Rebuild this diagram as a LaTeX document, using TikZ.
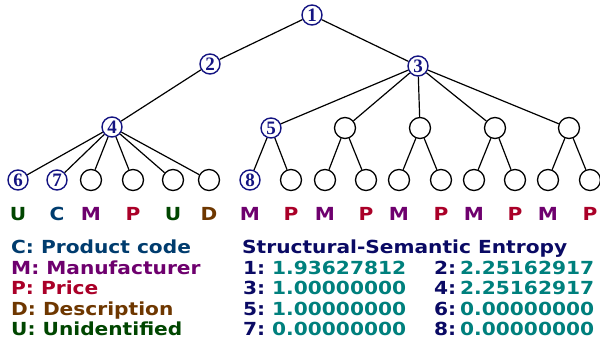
\documentclass[tikz,border=0pt]{standalone}
\usepackage{fontspec}
\setmainfont[FakeStretch=1.12]{DejaVu Sans}
\newfontfamily\digitfont{Liberation Serif}

\definecolor{treeblue}{RGB}{20,20,130}
\definecolor{codecol}{RGB}{0,60,110}
\definecolor{manucol}{RGB}{110,0,110}
\definecolor{pricecol}{RGB}{170,0,40}
\definecolor{desccol}{RGB}{110,55,0}
\definecolor{unidcol}{RGB}{0,70,0}
\definecolor{enttitle}{RGB}{10,10,100}
\definecolor{entval}{RGB}{0,128,125}

\tikzset{
  numnode/.style={circle, draw=treeblue, line width=1.4pt, inner sep=0pt, minimum size=20pt,
    text=treeblue, font=\digitfont\bfseries\fontsize{19}{19}\selectfont},
  plainnode/.style={circle, draw=black, line width=1.3pt, inner sep=0pt, minimum size=21pt},
  fieldtag/.style={anchor=base, inner sep=0pt, font=\bfseries\fontsize{18}{18}\selectfont},
  legend/.style={anchor=base west, inner sep=0pt, font=\bfseries\fontsize{18}{18}\selectfont},
  edge/.style={line width=1.2pt, black}
}

\begin{document}
\begin{tikzpicture}[x=1pt,y=1pt]
\useasboundingbox (0,0) rectangle (600,-345);
\node [numnode] (n1) at (312,-15) {1};
\node [numnode] (n2) at (210,-64) {2};
\node [numnode] (n3) at (418,-66) {3};
\node [numnode] (n4) at (112,-127) {4};
\node [numnode] (n5) at (271,-128) {5};
\node [plainnode] (a) at (345,-128) {};
\node [plainnode] (b) at (420,-128) {};
\node [plainnode] (c) at (495,-128) {};
\node [plainnode] (d) at (569,-128) {};
\node [numnode] (n6) at (18,-180) {6};
\node [numnode] (n7) at (57,-180) {7};
\node [plainnode] (l3) at (91,-180) {};
\node [plainnode] (l4) at (133,-180) {};
\node [plainnode] (l5) at (173,-180) {};
\node [plainnode] (l6) at (209,-180) {};
\node [numnode] (n8) at (250,-180) {8};
\node [plainnode] (l8) at (291,-180) {};
\node [plainnode] (la1) at (325,-180) {};
\node [plainnode] (la2) at (366,-180) {};
\node [plainnode] (lb1) at (399,-180) {};
\node [plainnode] (lb2) at (441,-180) {};
\node [plainnode] (lc1) at (474,-180) {};
\node [plainnode] (lc2) at (515,-180) {};
\node [plainnode] (ld1) at (548,-180) {};
\node [plainnode] (ld2) at (590,-180) {};
\draw [edge] (n1) -- (n2);
\draw [edge] (n1) -- (n3);
\draw [edge] (n2) -- (n4);
\draw [edge] (n3) -- (n5);
\draw [edge] (n3) -- (a);
\draw [edge] (n3) -- (b);
\draw [edge] (n3) -- (c);
\draw [edge] (n3) -- (d);
\draw [edge] (n4) -- (n6);
\draw [edge] (n4) -- (n7);
\draw [edge] (n4) -- (l3);
\draw [edge] (n4) -- (l4);
\draw [edge] (n4) -- (l5);
\draw [edge] (n4) -- (l6);
\draw [edge] (n5) -- (n8);
\draw [edge] (n5) -- (l8);
\draw [edge] (a) -- (la1);
\draw [edge] (a) -- (la2);
\draw [edge] (b) -- (lb1);
\draw [edge] (b) -- (lb2);
\draw [edge] (c) -- (lc1);
\draw [edge] (c) -- (lc2);
\draw [edge] (d) -- (ld1);
\draw [edge] (d) -- (ld2);
\node [fieldtag, text=unidcol] (t6) at (18,-220) {U};
\node [fieldtag, text=codecol] (t7) at (57,-220) {C};
\node [fieldtag, text=manucol] (t3) at (91,-220) {M};
\node [fieldtag, text=pricecol] (t4) at (133,-220) {P};
\node [fieldtag, text=unidcol] (t5) at (173,-220) {U};
\node [fieldtag, text=desccol] (t6b) at (209,-220) {D};
\node [fieldtag, text=manucol] (t8) at (250,-220) {M};
\node [fieldtag, text=pricecol] (t8b) at (291,-220) {P};
\node [fieldtag, text=manucol] (ta1) at (325,-220) {M};
\node [fieldtag, text=pricecol] (ta2) at (366,-220) {P};
\node [fieldtag, text=manucol] (tb1) at (399,-220) {M};
\node [fieldtag, text=pricecol] (tb2) at (441,-220) {P};
\node [fieldtag, text=manucol] (tc1) at (474,-220) {M};
\node [fieldtag, text=pricecol] (tc2) at (515,-220) {P};
\node [fieldtag, text=manucol] (td1) at (548,-220) {M};
\node [fieldtag, text=pricecol] (td2) at (590,-220) {P};
\node [legend, text=codecol] (kc) at (11,-253.5) {C: Product code};
\node [legend, text=manucol] (km) at (11,-274) {M: Manufacturer};
\node [legend, text=pricecol] (kp) at (11,-294.5) {P: Price};
\node [legend, text=desccol] (kd) at (11,-315) {D: Description};
\node [legend, text=unidcol] (ku) at (11,-335.5) {U: Unidentified};
\node [legend, text=enttitle] (et) at (242,-253.5) {Structural-Semantic Entropy};
\node [legend, text=enttitle] (e1) at (243,-274) {1:};
\node [legend, text=entval] (v1) at (272,-274) {1.93627812};
\node [legend, text=enttitle] (e2) at (434,-274) {2:};
\node [legend, text=entval] (v2) at (460,-274) {2.25162917};
\node [legend, text=enttitle] (e3) at (243,-294.5) {3:};
\node [legend, text=entval] (v3) at (272,-294.5) {1.00000000};
\node [legend, text=enttitle] (e4) at (434,-294.5) {4:};
\node [legend, text=entval] (v4) at (460,-294.5) {2.25162917};
\node [legend, text=enttitle] (e5) at (243,-315) {5:};
\node [legend, text=entval] (v5) at (272,-315) {1.00000000};
\node [legend, text=enttitle] (e6) at (434,-315) {6:};
\node [legend, text=entval] (v6) at (460,-315) {0.00000000};
\node [legend, text=enttitle] (e7) at (243,-335.5) {7:};
\node [legend, text=entval] (v7) at (272,-335.5) {0.00000000};
\node [legend, text=enttitle] (e8) at (434,-335.5) {8:};
\node [legend, text=entval] (v8) at (460,-335.5) {0.00000000};
\end{tikzpicture}
\end{document}
